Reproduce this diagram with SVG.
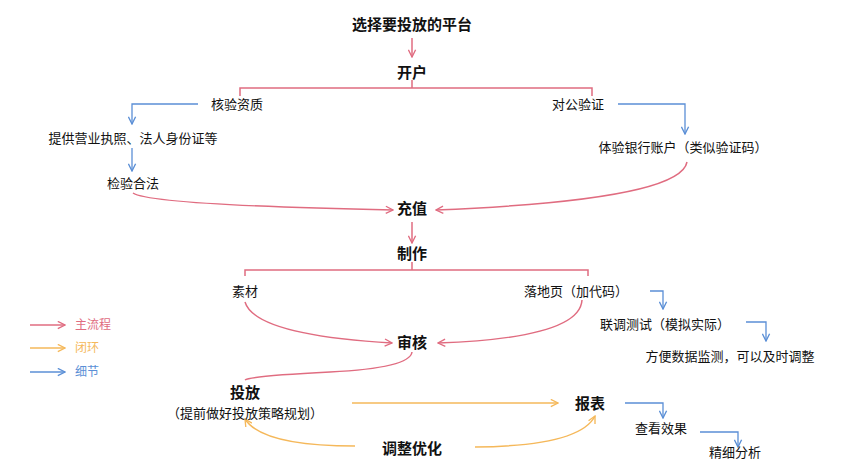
<svg xmlns="http://www.w3.org/2000/svg" width="842" height="474" viewBox="0 0 842 474">
<defs>
<style>
text{font-family:"Noto Sans CJK SC","Noto Sans",sans-serif;font-size:13px;fill:#111;text-anchor:middle}
.b{font-weight:bold;font-size:15px}
.r{fill:none;stroke:#e06c80;stroke-width:1.5}
.o{fill:none;stroke:#f5b85a;stroke-width:1.5}
.u{fill:none;stroke:#5b8fd6;stroke-width:1.3}
.ar{marker-end:url(#mr)}.ao{marker-end:url(#mo)}.au{marker-end:url(#mu)}
</style>
<marker id="mr" viewBox="0 0 10 10" refX="9" refY="5" markerWidth="9" markerHeight="9" markerUnits="userSpaceOnUse" orient="auto"><path d="M1,1 L9,5 L1,9" fill="none" stroke="#e06c80" stroke-width="1.5"/></marker>
<marker id="mo" viewBox="0 0 10 10" refX="9" refY="5" markerWidth="9" markerHeight="9" markerUnits="userSpaceOnUse" orient="auto"><path d="M1,1 L9,5 L1,9" fill="none" stroke="#f5b85a" stroke-width="1.5"/></marker>
<marker id="mu" viewBox="0 0 10 10" refX="9" refY="5" markerWidth="9" markerHeight="9" markerUnits="userSpaceOnUse" orient="auto"><path d="M1,1 L9,5 L1,9" fill="none" stroke="#5b8fd6" stroke-width="1.5"/></marker>
</defs>
<rect width="842" height="474" fill="#fff"/>
<g id="connectors">
<path class="r ar" d="M412,38 V57"/>
<path class="r" d="M412,80 V88 M240,96 V88 H592 V96"/>
<path class="u au" d="M198,104 H132 V124"/>
<path class="u au" d="M132,148 V171"/>
<path class="u au" d="M618,104 H685 V134"/>
<path class="r ar" d="M133,193 Q150,205 393,210"/>
<path class="r ar" d="M687,162 Q680,200 436,210"/>
<path class="r ar" d="M412,222 V243"/>
<path class="r" d="M412,262 V270 M245,276 V270 H588 V276"/>
<path class="u au" d="M650,291 H663 V309"/>
<path class="r ar" d="M245,302 Q255,335 392,343"/>
<path class="r ar" d="M582,300 Q580,338 438,343"/>
<path class="u au" d="M746,322 H766 V341"/>
<path class="r" d="M412,352 Q410,368 330,372 Q250,376 245,380"/>
<path class="o ao" d="M352,403 H558"/>
<path class="u au" d="M625,403 H663 V418"/>
<path class="u au" d="M700,432 H738 V447"/>
<path class="o ao" d="M355,446 Q262,446 245,419"/>
<path class="o ao" d="M475,447 Q580,446 595,416"/>
<path class="r ar" d="M30,325 H65"/>
<path class="o ao" d="M30,348 H65"/>
<path class="u au" d="M30,372 H65"/>
</g>
<g id="n1"><text class="b" x="412" y="30">选择要投放的平台</text></g>
<g id="n2"><text class="b" x="412" y="78">开户</text></g>
<g id="n3"><text x="237" y="109">核验资质</text></g>
<g id="n4"><text x="578" y="109">对公验证</text></g>
<g id="n5"><text x="133" y="143">提供营业执照、法人身份证等</text></g>
<g id="n6"><text x="133" y="188">检验合法</text></g>
<g id="n7"><text x="683" y="152">体验银行账户（类似验证码）</text></g>
<g id="n8"><text class="b" x="412" y="214">充值</text></g>
<g id="n9"><text class="b" x="412" y="259">制作</text></g>
<g id="n10"><text x="245" y="296">素材</text></g>
<g id="n11"><text x="576" y="296">落地页（加代码）</text></g>
<g id="n12"><text x="665" y="329">联调测试（模拟实际）</text></g>
<g id="n13"><text x="730" y="361">方便数据监测，可以及时调整</text></g>
<g id="n14"><text class="b" x="412" y="348">审核</text></g>
<g id="n15"><text class="b" x="245" y="398">投放</text><text x="245" y="418">（提前做好投放策略规划）</text></g>
<g id="n16"><text class="b" x="590" y="409">报表</text></g>
<g id="n17"><text x="661" y="433">查看效果</text></g>
<g id="n18"><text x="735" y="457">精细分析</text></g>
<g id="n19"><text class="b" x="412" y="454">调整优化</text></g>
<g id="legend">
<text x="93" y="329" style="font-size:12px;fill:#e06c80">主流程</text>
<text x="87" y="352" style="font-size:12px;fill:#f5b85a">闭环</text>
<text x="87" y="376" style="font-size:12px;fill:#5b8fd6">细节</text>
</g>
</svg>
